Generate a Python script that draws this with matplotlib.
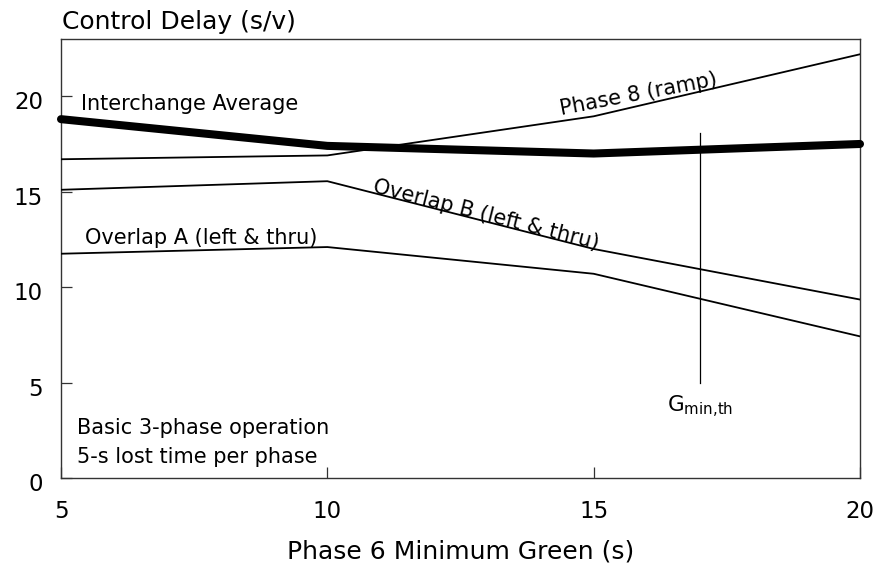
import math
import matplotlib
matplotlib.use("Agg")
import matplotlib.pyplot as plt
import matplotlib.transforms as mtransforms

plt.rcParams["font.family"] = ["DejaVu Sans"]
plt.rcParams["mathtext.default"] = "regular"

# Phase 6 minimum green settings (s)
min_green = [5, 10, 15, 20]

# Control delay by movement (s/v)
interchange_avg = [18.8, 17.4, 17.0, 17.5]
phase8_ramp = [16.7, 16.9, 18.95, 22.2]
overlap_b = [15.1, 15.55, 12.0, 9.35]
overlap_a = [11.75, 12.1, 10.7, 7.42]

# Theoretical minimum green marker
gmin_th = 17.0
gmin_span = [5.0, 18.1]

x_ticks = [5, 10, 15, 20]
y_ticks = [0, 5, 10, 15, 20]

fig = plt.figure(figsize=(8.78, 5.72), dpi=100)
ax = fig.add_axes([61 / 878, 1 - 478 / 572, (860 - 61) / 878, (478 - 39) / 572])

ax.plot(min_green, interchange_avg, color="black", lw=5.8,
        solid_capstyle="round", clip_on=False, zorder=4)
for series in (phase8_ramp, overlap_b, overlap_a):
    ax.plot(min_green, series, color="black", lw=1.3, zorder=3)

ax.plot([gmin_th, gmin_th], gmin_span, color="black", lw=0.9, zorder=3)

ax.set_xlim(5, 20)
ax.set_ylim(0, 23)
ax.set_xticks(x_ticks)
ax.set_yticks(y_ticks)
ax.tick_params(direction="in", length=8, width=0.9, labelsize=16.5,
               color="#333333")
ax.tick_params(axis="x", pad=16)
ax.tick_params(axis="y", pad=13)
for sp in ax.spines.values():
    sp.set_linewidth(1.0)
    sp.set_color("#333333")

# nudge y tick labels slightly below their ticks
shift = mtransforms.ScaledTranslation(0, -4 / 100, fig.dpi_scale_trans)
for lbl in ax.yaxis.get_majorticklabels():
    lbl.set_transform(lbl.get_transform() + shift)


def seg_angle(x0, y0, x1, y1):
    p0 = ax.transData.transform((x0, y0))
    p1 = ax.transData.transform((x1, y1))
    return math.degrees(math.atan2(p1[1] - p0[1], p1[0] - p0[0]))


ax.text(5.375, 19.26, "Interchange Average", fontsize=15, va="baseline", ha="left")
ax.text(5.45, 12.26, "Overlap A (left & thru)", fontsize=15, va="baseline", ha="left")

ang_b = seg_angle(min_green[1], overlap_b[1], min_green[2], overlap_b[2])
xb = 10.84
yb = overlap_b[1] + (overlap_b[2] - overlap_b[1]) * (xb - 10) / 5 + 0.05
ax.text(xb, yb, "Overlap B (left & thru)", fontsize=15, rotation=ang_b,
        rotation_mode="anchor", va="baseline", ha="left")

ang_8 = seg_angle(min_green[1], phase8_ramp[1], min_green[3], phase8_ramp[3])
ax.text(14.39, 19.0, "Phase 8 (ramp)", fontsize=15, rotation=ang_8,
        rotation_mode="anchor", va="baseline", ha="left")

ax.text(16.38, 3.42, r"G$_{min{,}th}$", fontsize=15.5, va="baseline", ha="left")

ax.text(5.3, 2.3, "Basic 3-phase operation", fontsize=15, va="baseline", ha="left")
ax.text(5.3, 0.8, "5-s lost time per phase", fontsize=15, va="baseline", ha="left")

fig.text(62 / 878, 1 - 29 / 572, "Control Delay (s/v)", fontsize=18,
         va="baseline", ha="left")
fig.text(460.5 / 878, 1 - 559 / 572, "Phase 6 Minimum Green (s)", fontsize=18,
         va="baseline", ha="center")

fig.savefig("out.png", dpi=100)
